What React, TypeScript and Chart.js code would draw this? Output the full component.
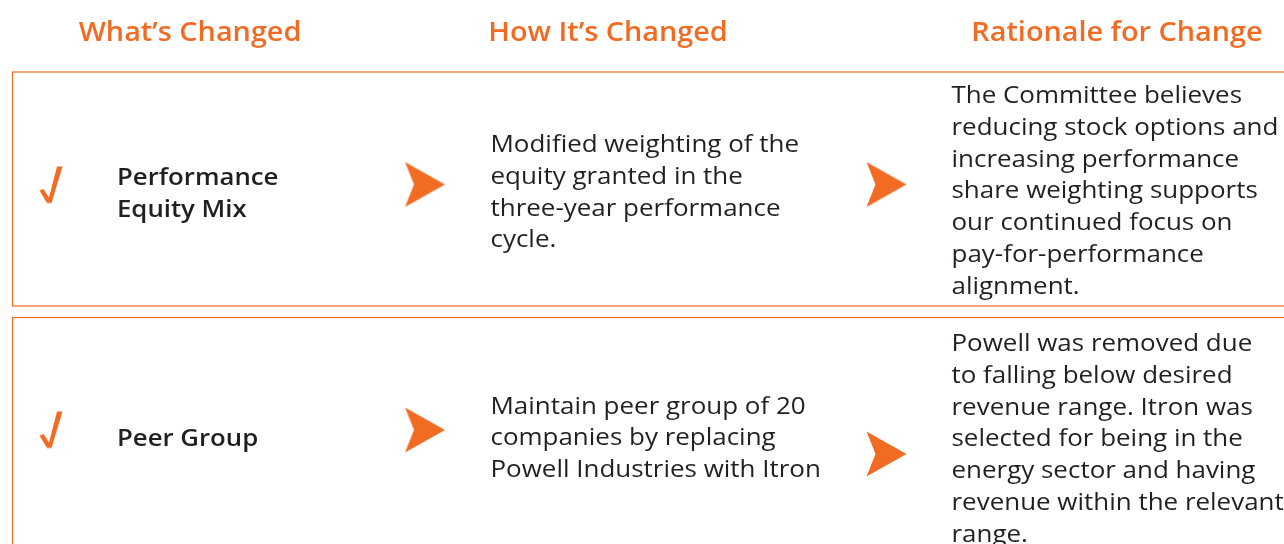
import React, { useEffect, useRef } from "react";
import { Chart, registerables } from "chart.js";
Chart.register(...registerables);

// ---- content ----
const headers = ["What’s Changed", "How It’s Changed", "Rationale for Change"];
const whatChanged = [["Performance", "Equity Mix"], ["Peer Group"]];
const howChanged = [
  ["Modified weighting of the", "equity granted in the", "three-year performance", "cycle."],
  ["Maintain peer group of 20", "companies by replacing", "Powell Industries with Itron"],
];
const rationale = [
  [
    "The Committee believes",
    "reducing stock options and",
    "increasing performance",
    "share weighting supports",
    "our continued focus on",
    "pay-for-performance",
    "alignment.",
  ],
  [
    "Powell was removed due",
    "to falling below desired",
    "revenue range. Itron was",
    "selected for being in the",
    "energy sector and having",
    "revenue within the relevant",
    "range.",
  ],
];

// ---- layout / style (pixels in the 1284x544 frame) ----
const W = 1284;
const H = 544;
const ORANGE = "#F26B22";
const INK = "#231F20";
const FAMILY = "'Open Sans', 'Noto Sans', sans-serif";
const LAYOUT = {
  headerCenters: [190, 608, 1117],
  headerBaseline: 41,
  boxLeft: 12.5,
  boxes: [
    { top: 72, bottom: 306 },
    { top: 317.5, bottom: 620 },
  ],
  checkX: 51,
  checkY: [184.5, 429.5],
  arrowX: [425, 886.5],
  arrowY: [
    [184.5, 184.5],
    [430, 454],
  ],
  whatX: 117,
  whatFirst: [185, 446],
  howX: 490.5,
  howFirst: [152, 413.5],
  whyX: 951.5,
  whyFirst: [103, 351],
  lineH: 31.8,
};
// horizontal width fitting: font plus sample strings with their widths in the reference
const FIT = {
  header: {
    font: `600 27px ${FAMILY}`,
    samples: [
      ["Rationale for Change", 290],
      ["What’s Changed", 224],
    ] as [string, number][],
  },
  what: {
    font: `600 23.5px ${FAMILY}`,
    samples: [
      ["Performance", 158],
      ["Equity Mix", 133],
    ] as [string, number][],
  },
  body: {
    font: `23.5px ${FAMILY}`,
    samples: [
      ["Modified weighting of the", 326],
      ["reducing stock options and", 325],
      ["Powell Industries with Itron", 326],
      ["revenue within the relevant", 321],
    ] as [string, number][],
  },
};

function makeArrow(): HTMLCanvasElement {
  const c = document.createElement("canvas");
  c.width = 41;
  c.height = 46;
  const g = c.getContext("2d")!;
  g.fillStyle = ORANGE;
  g.beginPath();
  g.moveTo(0.5, 0.5);
  g.lineTo(40.5, 23);
  g.lineTo(0.5, 45.5);
  g.lineTo(9.5, 23);
  g.closePath();
  g.fill();
  return c;
}

function makeCheck(): HTMLCanvasElement {
  const c = document.createElement("canvas");
  c.width = 26;
  c.height = 40;
  const g = c.getContext("2d")!;
  g.fillStyle = ORANGE;
  g.beginPath();
  g.moveTo(1.5, 26);
  g.lineTo(5.5, 24.5);
  g.lineTo(11, 33);
  g.lineTo(19, 2);
  g.lineTo(24.5, 2);
  g.lineTo(13.5, 38.5);
  g.lineTo(9, 38.5);
  g.closePath();
  g.fill();
  return c;
}

function fitScale(ctx: CanvasRenderingContext2D, f: { font: string; samples: [string, number][] }) {
  ctx.font = f.font;
  let nat = 0;
  let tgt = 0;
  f.samples.forEach(([s, w]) => {
    nat += ctx.measureText(s).width;
    tgt += w;
  });
  return tgt / nat;
}

function drawText(ctx: CanvasRenderingContext2D, s: string, px: number, py: number, sx: number) {
  ctx.save();
  ctx.translate(px, py);
  ctx.scale(sx, 1);
  ctx.fillText(s, 0, 0);
  ctx.restore();
}

const tablePlugin = {
  id: "tablePlugin",
  beforeDatasetsDraw(chart: any) {
    const { ctx, scales } = chart;
    const x = scales.x;
    const y = scales.y;
    ctx.save();
    ctx.strokeStyle = ORANGE;
    ctx.lineWidth = 1.2;
    LAYOUT.boxes.forEach((b) => {
      const l = x.getPixelForValue(LAYOUT.boxLeft);
      const r = x.getPixelForValue(W + 10);
      const t = y.getPixelForValue(b.top);
      const bt = y.getPixelForValue(b.bottom);
      ctx.strokeRect(l, t, r - l, bt - t);
    });
    ctx.restore();
  },
  afterDatasetsDraw(chart: any) {
    const { ctx, scales } = chart;
    const x = scales.x;
    const y = scales.y;
    ctx.save();
    ctx.textBaseline = "alphabetic";
    const sH = fitScale(ctx, FIT.header);
    const sW = fitScale(ctx, FIT.what);
    const sB = fitScale(ctx, FIT.body);
    ctx.fillStyle = ORANGE;
    ctx.font = FIT.header.font;
    ctx.textAlign = "center";
    headers.forEach((h, i) => {
      drawText(ctx, h, x.getPixelForValue(LAYOUT.headerCenters[i]), y.getPixelForValue(LAYOUT.headerBaseline), sH);
    });
    ctx.textAlign = "left";
    ctx.fillStyle = INK;
    ctx.font = FIT.what.font;
    whatChanged.forEach((lines, r) => {
      lines.forEach((s, k) => {
        drawText(ctx, s, x.getPixelForValue(LAYOUT.whatX), y.getPixelForValue(LAYOUT.whatFirst[r] + k * LAYOUT.lineH), sW);
      });
    });
    ctx.font = FIT.body.font;
    howChanged.forEach((lines, r) => {
      lines.forEach((s, k) => {
        drawText(ctx, s, x.getPixelForValue(LAYOUT.howX), y.getPixelForValue(LAYOUT.howFirst[r] + k * LAYOUT.lineH), sB);
      });
    });
    rationale.forEach((lines, r) => {
      lines.forEach((s, k) => {
        drawText(ctx, s, x.getPixelForValue(LAYOUT.whyX), y.getPixelForValue(LAYOUT.whyFirst[r] + k * LAYOUT.lineH), sB);
      });
    });
    ctx.restore();
  },
};

export default function App() {
  const ref = useRef<HTMLCanvasElement | null>(null);
  useEffect(() => {
    document.body.style.margin = "0";
    const arrow = makeArrow();
    const check = makeCheck();
    const arrowPts: { x: number; y: number }[] = [];
    LAYOUT.arrowY.forEach((row) => row.forEach((yy, j) => arrowPts.push({ x: LAYOUT.arrowX[j], y: yy })));
    const checkPts = LAYOUT.checkY.map((yy) => ({ x: LAYOUT.checkX, y: yy }));
    const chart = new Chart(ref.current!, {
      type: "scatter",
      data: {
        datasets: [
          { label: "arrows", data: arrowPts, pointStyle: arrow as any, pointRadius: 20 },
          { label: "checks", data: checkPts, pointStyle: check as any, pointRadius: 15 },
        ],
      },
      options: {
        responsive: false,
        animation: false,
        devicePixelRatio: 1,
        layout: { padding: 0, autoPadding: false },
        events: [],
        plugins: { legend: { display: false }, tooltip: { enabled: false } },
        scales: {
          x: { type: "linear", min: 0, max: W, display: false },
          y: { type: "linear", min: 0, max: H, reverse: true, display: false },
        },
      },
      plugins: [tablePlugin],
    });
    if ((document as any).fonts) {
      Promise.all([
        (document as any).fonts.load(`23px 'Open Sans'`),
        (document as any).fonts.load(`600 23px 'Open Sans'`),
      ]).then(() => chart.update()).catch(() => {});
    }
    return () => chart.destroy();
  }, []);
  return (
    <div style={{ position: "fixed", left: 0, top: 0, width: W, height: H, background: "#fff" }}>
      <canvas ref={ref} width={W} height={H} style={{ display: "block", width: W, height: H }} />
    </div>
  );
}
